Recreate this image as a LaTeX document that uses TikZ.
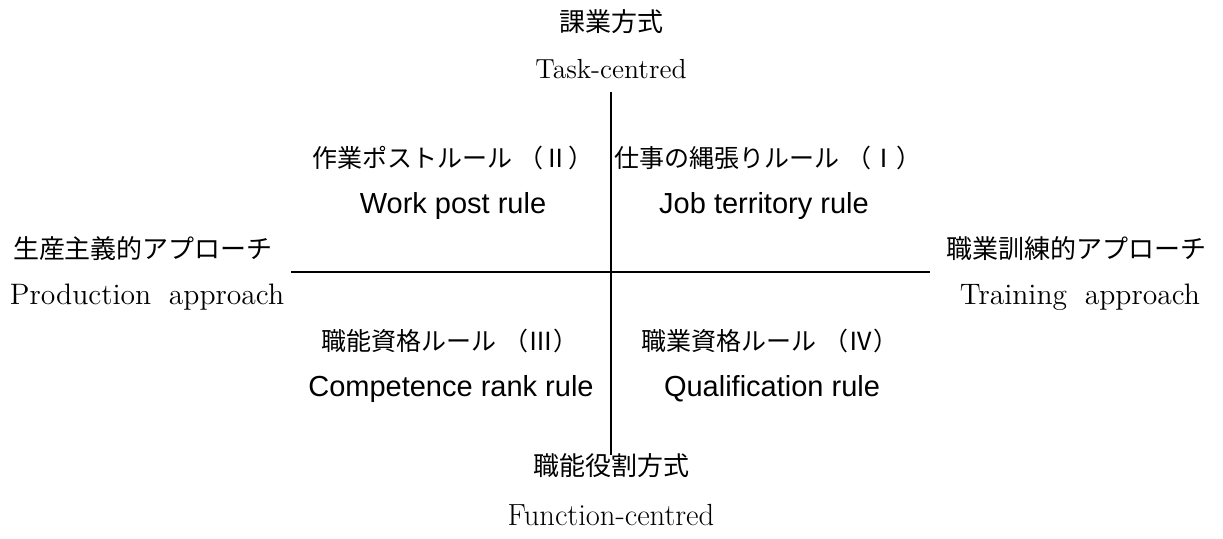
\documentclass[tikz,border=0pt]{standalone}
\usepackage{fontspec}
\newfontfamily\jpsans{Noto Sans CJK JP}
\newfontfamily\ensans{Liberation Sans}
\newcommand{\widesp}{\hspace{0.6em}}
\newcommand{\pgap}{\hspace{0.25em}}
\begin{document}
\begin{tikzpicture}[x=0.5pt,y=-0.5pt,
  axisjp/.style={font=\jpsans\fontsize{13}{15}\selectfont, inner sep=0pt},
  axisen/.style={font=\fontsize{14.8}{16}\selectfont, inner sep=0pt},
  quadjp/.style={font=\jpsans\fontsize{12.5}{14}\selectfont, inner sep=0pt},
  quaden/.style={font=\ensans\fontsize{14.5}{16}\selectfont, inner sep=0pt},
  axisline/.style={draw=black, line width=0.75pt}]
\useasboundingbox (0,0) rectangle (1223,539);
% axis end points
\coordinate (top) at (611,92);
\coordinate (bottom) at (611,455);
\coordinate (left) at (291,272);
\coordinate (right) at (930,272);
\draw[axisline] (top) -- (bottom);
\draw[axisline] (left) -- (right);
% top / bottom labels
\node[axisjp] (tjp) at (611,22) {課業方式};
\node[axisen, font=\fontsize{13.8}{16}\selectfont] (ten) at (611,69) {Task-centred};
\node[axisjp] (bjp) at (611,466) {職能役割方式};
\node[axisen, font=\fontsize{15.3}{16}\selectfont] (ben) at (611,515) {Function-centred};
% left / right labels
\node[axisjp] (ljp) at (143,249) {生産主義的アプローチ};
\node[axisen] (len) at (147,297) {Production\widesp approach};
\node[axisjp] (rjp) at (1076,249) {職業訓練的アプローチ};
\node[axisen] (ren) at (1080,297) {Training\widesp approach};
% quadrants
\node[quadjp] (q2jp) at (453,158) {作業ポストルール\pgap（Ⅱ）};
\node[quaden] (q2en) at (453,206) {Work post rule};
\node[quadjp] (q1jp) at (768,158) {仕事の縄張りルール\pgap（Ⅰ）};
\node[quaden] (q1en) at (764,206) {Job territory rule};
\node[quadjp] (q3jp) at (450,341) {職能資格ルール\pgap（Ⅲ）};
\node[quaden] (q3en) at (451,389) {Competence rank rule};
\node[quadjp] (q4jp) at (770,341) {職業資格ルール\pgap（Ⅳ）};
\node[quaden] (q4en) at (772,389) {Qualification rule};
\end{tikzpicture}
\end{document}
